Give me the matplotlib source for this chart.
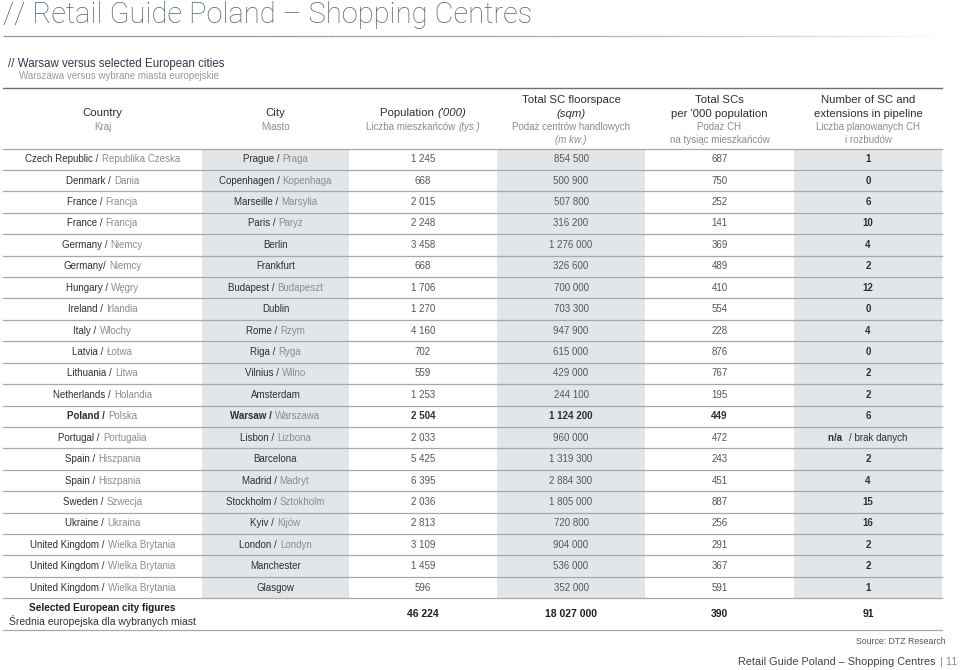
import matplotlib
matplotlib.use("Agg")
import matplotlib.pyplot as plt
from matplotlib.offsetbox import TextArea, HPacker, AnnotationBbox
from matplotlib.collections import LineCollection
import numpy as np

plt.rcParams['font.family'] = ['Liberation Sans', 'DejaVu Sans']

# ---- data ----
country_en = ["Czech Republic /", "Denmark /", "France /", "France /", "Germany /", "Germany/",
              "Hungary /", "Ireland /", "Italy /", "Latvia /", "Lithuania /", "Netherlands /",
              "Poland /", "Portugal /", "Spain /", "Spain /", "Sweden /", "Ukraine /",
              "United Kingdom /", "United Kingdom /", "United Kingdom /"]
country_pl = ["Republika Czeska", "Dania", "Francja", "Francja", "Niemcy", "Niemcy",
              "Węgry", "Irlandia", "Włochy", "Łotwa", "Litwa", "Holandia",
              "Polska", "Portugalia", "Hiszpania", "Hiszpania", "Szwecja", "Ukraina",
              "Wielka Brytania", "Wielka Brytania", "Wielka Brytania"]
city_en = ["Prague /", "Copenhagen /", "Marseille /", "Paris /", "Berlin", "Frankfurt",
           "Budapest /", "Dublin", "Rome /", "Riga /", "Vilnius /", "Amsterdam",
           "Warsaw /", "Lisbon /", "Barcelona", "Madrid /", "Stockholm /", "Kyiv /",
           "London /", "Manchester", "Glasgow"]
city_pl = ["Praga", "Kopenhaga", "Marsylia", "Paryż", "", "",
           "Budapeszt", "", "Rzym", "Ryga", "Wilno", "",
           "Warszawa", "Lizbona", "", "Madryt", "Sztokholm", "Kijów",
           "Londyn", "", ""]
population = [1245, 668, 2015, 2248, 3458, 668, 1706, 1270, 4160, 702, 559, 1253,
              2504, 2033, 5425, 6395, 2036, 2813, 3109, 1459, 596]
floorspace = [854500, 500900, 507800, 316200, 1276000, 326600, 700000, 703300, 947900,
              615000, 429000, 244100, 1124200, 960000, 1319300, 2884300, 1805000,
              720800, 904000, 536000, 352000]
per_1000 = [687, 750, 252, 141, 369, 489, 410, 554, 228, 876, 767, 195, 449, 472,
            243, 451, 887, 256, 291, 367, 591]
pipeline = [1, 0, 6, 10, 4, 2, 12, 0, 4, 0, 2, 2, 6, None, 2, 4, 15, 16, 2, 2, 1]
highlight = "Poland /"

summary_label = ["Selected European city figures", "Średnia europejska dla wybranych miast"]
summary_values = [46224, 18027000, 390, 91]

# header lines per column: list of lines, each line = list of (text, style, polish?)
headers = [
    [[("Country", "normal", False)], [("Kraj", "normal", True)]],
    [[("City", "normal", False)], [("Miasto", "normal", True)]],
    [[("Population ", "normal", False), ("('000)", "italic", False)],
     [("Liczba mieszkańców ", "normal", True), ("(tys.)", "italic", True)]],
    [[("Total SC floorspace", "normal", False)], [("(sqm)", "italic", False)],
     [("Podaż centrów handlowych", "normal", True)], [("(m kw.)", "italic", True)]],
    [[("Total SCs", "normal", False)], [("per '000 population", "normal", False)],
     [("Podaż CH", "normal", True)], [("na tysiąc mieszkańców", "normal", True)]],
    [[("Number of SC and", "normal", False)], [("extensions in pipeline", "normal", False)],
     [("Liczba planowanych CH", "normal", True)], [("i rozbudów", "normal", True)]],
]

# ---- style ----
DARK = "#2f2f2f"
GREY = "#8c8c8c"
NUM = "#555555"
SHADE = "#e3e6e9"
RULE = "#a8a8a8"

col_edges = [3, 202, 349, 497, 645, 794, 942]
centers = [(a + b) / 2 for a, b in zip(col_edges[:-1], col_edges[1:])]
table_top = 148.5
row_h = 21.42
n_rows = len(country_en)
table_bottom = table_top + n_rows * row_h
summary_bottom = table_bottom + 31.5


def fmt(v):
    return f"{v:,}".replace(",", " ")


def pack_text(ax, x, y, parts, size, sep=2.2):
    boxes = [TextArea(t, textprops=dict(color=c, fontsize=size, fontweight=w, fontstyle=s))
             for t, c, w, s in parts if t]
    pk = HPacker(children=boxes, pad=0, sep=sep, align="baseline")
    ab = AnnotationBbox(pk, (x, y), xycoords="data", frameon=False,
                        box_alignment=(0.5, 0.5), pad=0)
    ax.add_artist(ab)


fig = plt.figure(figsize=(9.6, 6.7), dpi=100)
ax = fig.add_axes([0, 0, 1, 1])
ax.set_xlim(0, 960)
ax.set_ylim(670, 0)
ax.axis("off")

# title
ax.text(3, 15, "// Retail Guide Poland – Shopping Centres", fontsize=21,
        color="#55697f", va="center", ha="left", family=["Roboto", "Liberation Sans"],
        fontweight="light")
xs = np.linspace(3, 945, 120)
segs = [[(xs[i], 36), (xs[i + 1], 36)] for i in range(len(xs) - 1)]
alphas = np.clip(1.0 - np.linspace(0, 1, len(segs)) ** 3, 0, 1)
ax.add_collection(LineCollection(segs, colors=[(0.55, 0.6, 0.65, a) for a in alphas],
                                 linewidths=0.9))

# subtitle
ax.text(8, 64, "// Warsaw versus selected European cities", fontsize=8.3,
        color="#2b3a4e", va="center", ha="left")
ax.text(19, 76, "Warszawa versus wybrane miasta europejskie", fontsize=7,
        color="#9a9a9a", va="center", ha="left")
ax.plot([3, 942], [88, 88], color="#707070", lw=1.0)

# column shading
for c in (1, 3, 5):
    ax.axvspan(col_edges[c], col_edges[c + 1], ymin=1 - table_bottom / 670,
               ymax=1 - table_top / 670, color=SHADE, lw=0, zorder=0)

# headers
for c, lines in enumerate(headers):
    n = len(lines)
    if n == 2:
        ys = [113, 127]
    else:
        ys = [100, 114, 127.5, 140]
    for line, y in zip(lines, ys):
        parts = []
        for t, s, pl in line:
            parts.append((t, GREY if pl else DARK, "normal", s))
        size = 7 if line[0][2] else 8.2
        pack_text(ax, centers[c], y, parts, size, sep=0)

# row rules
for i in range(n_rows + 1):
    y = table_top + i * row_h
    ax.plot([3, 942], [y, y], color=RULE, lw=0.9, zorder=2)
ax.plot([3, 942], [summary_bottom, summary_bottom], color=RULE, lw=0.9, zorder=2)

# data rows
for i in range(n_rows):
    y = table_top + (i + 0.5) * row_h
    bold = country_en[i] == highlight
    w = "bold" if bold else "normal"
    ncol = DARK if bold else NUM
    pack_text(ax, centers[0], y, [(country_en[i], DARK, w, "normal"),
                                 (country_pl[i], GREY, "normal", "normal")], 7)
    pack_text(ax, centers[1], y, [(city_en[i], DARK, w, "normal"),
                                 (city_pl[i], GREY, "normal", "normal")], 7)
    ax.text(centers[2], y, fmt(population[i]), ha="center", va="center",
            fontsize=7, color=ncol, fontweight=w)
    ax.text(centers[3], y, fmt(floorspace[i]), ha="center", va="center",
            fontsize=7, color=ncol, fontweight=w)
    ax.text(centers[4], y, fmt(per_1000[i]), ha="center", va="center",
            fontsize=7, color=ncol, fontweight=w)
    if pipeline[i] is None:
        pack_text(ax, centers[5], y, [("n/a ", DARK, "bold", "normal"),
                                     ("/ brak danych", DARK, "normal", "normal")], 7, sep=3)
    else:
        ax.text(centers[5], y, str(pipeline[i]), ha="center", va="center",
                fontsize=7, color=DARK, fontweight="bold")

# summary row
ys = (table_bottom + summary_bottom) / 2
ax.text(centers[0], ys - 6.5, summary_label[0], ha="center", va="center",
        fontsize=7.2, color="#1f1f1f", fontweight="bold")
ax.text(centers[0], ys + 6.5, summary_label[1], ha="center", va="center",
        fontsize=7.5, color="#333333")
for c, v in zip(range(2, 6), summary_values):
    ax.text(centers[c], ys, fmt(v), ha="center", va="center", fontsize=7.5,
            color="#1f1f1f", fontweight="bold")

# source and footer
ax.text(946, 641, "Source: DTZ Research", ha="right", va="center", fontsize=6.3,
        color="#555555")
ax.text(936, 662, "Retail Guide Poland – Shopping Centres", ha="right", va="center",
        fontsize=7.8, color="#444444")
ax.text(957, 662, "| 11", ha="right", va="center", fontsize=7.8, color="#8a8a8a")

fig.savefig("out.png", dpi=100)
